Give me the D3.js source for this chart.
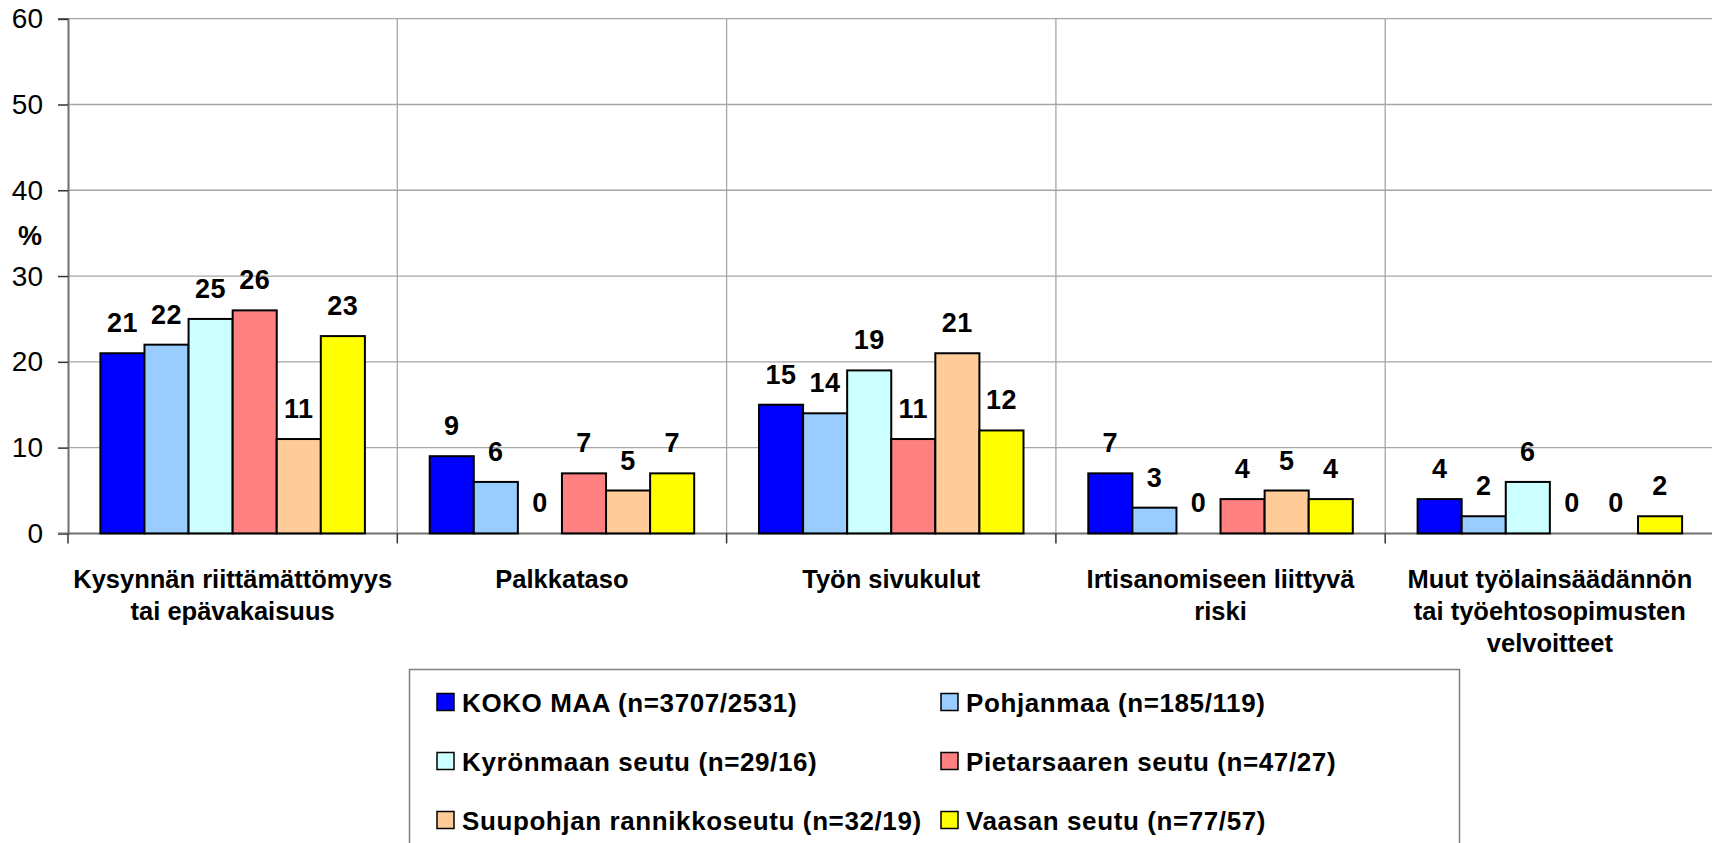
<!DOCTYPE html>
<html>
<head>
<meta charset="utf-8">
<script src="https://cdn.jsdelivr.net/npm/d3@7"></script>
<style>
  html, body { margin: 0; padding: 0; background: #fff; overflow: hidden; }
  svg { display: block; font-family: Arial, "Liberation Sans", sans-serif; }
</style>
</head>
<body>
<svg id="chart" width="1712" height="843"></svg>
<script>
const categories = [
  ["Kysynnän riittämättömyys", "tai epävakaisuus"],
  ["Palkkataso"],
  ["Työn sivukulut"],
  ["Irtisanomiseen liittyvä", "riski"],
  ["Muut työlainsäädännön", "tai työehtosopimusten", "velvoitteet"]
];
const seriesNames = [
  "KOKO MAA (n=3707/2531)",
  "Pohjanmaa (n=185/119)",
  "Kyrönmaan seutu (n=29/16)",
  "Pietarsaaren seutu (n=47/27)",
  "Suupohjan rannikkoseutu (n=32/19)",
  "Vaasan seutu (n=77/57)"
];
const kokoMaa    = [21, 9, 15, 7, 4];
const pohjanmaa  = [22, 6, 14, 3, 2];
const kyronmaa   = [25, 0, 19, 0, 6];
const pietarsaari= [26, 7, 11, 4, 0];
const suupohja   = [11, 5, 21, 5, 0];
const vaasa      = [23, 7, 12, 4, 2];
const seriesValues = [kokoMaa, pohjanmaa, kyronmaa, pietarsaari, suupohja, vaasa];
const seriesColors = ["#0000FF", "#99CCFF", "#CCFFFF", "#FF8080", "#FFCC99", "#FFFF00"];
const yTicks = [0, 10, 20, 30, 40, 50, 60];
const yLabel = "%";

const svg = d3.select("#chart");
const plotLeft = 68, plotRight = 1714.5, plotTop = 18.7, plotBottom = 533.4;

const catIdx = categories.map((c, i) => i);
const x = d3.scaleBand().domain(catIdx).range([plotLeft, plotRight]).padding(0);
const xs = d3.scaleBand().domain(d3.range(seriesNames.length)).range([0, x.bandwidth()])
  .paddingInner(0).paddingOuter(0.735);
const y = d3.scaleLinear().domain([0, 60]).range([plotBottom, plotTop]);

const gridColor = "#a6a6a6";
const axisColor = "#707070";

// horizontal gridlines
svg.append("g").selectAll("line").data(yTicks.filter(t => t > 0)).join("line")
  .attr("x1", plotLeft).attr("x2", plotRight)
  .attr("y1", d => y(d)).attr("y2", d => y(d))
  .attr("stroke", gridColor).attr("stroke-width", 1.3);

// vertical gridlines (category boundaries)
svg.append("g").selectAll("line").data(catIdx.slice(1)).join("line")
  .attr("x1", d => x(d)).attr("x2", d => x(d))
  .attr("y1", plotTop).attr("y2", plotBottom)
  .attr("stroke", gridColor).attr("stroke-width", 1.3);

// Y axis
const yAxis = d3.axisLeft(y).tickValues(yTicks).tickSize(10).tickPadding(15).tickFormat(d3.format("d"));
const gy = svg.append("g").attr("transform", `translate(${plotLeft},0)`).call(yAxis);
gy.select(".domain").attr("stroke", axisColor).attr("stroke-width", 2);
gy.selectAll(".tick line").attr("stroke", "#333").attr("stroke-width", 1.5);
gy.selectAll(".tick text").attr("font-size", 28).attr("fill", "#000")
  .attr("font-family", "Arial, 'Liberation Sans', sans-serif");

// y label
svg.append("text").attr("x", 30).attr("y", 245).attr("text-anchor", "middle")
  .attr("font-size", 27).attr("font-weight", "bold").text(yLabel);

// X axis line
svg.append("line").attr("x1", plotLeft - 10).attr("x2", plotRight)
  .attr("y1", plotBottom).attr("y2", plotBottom)
  .attr("stroke", axisColor).attr("stroke-width", 2);
// x ticks at category boundaries
svg.append("g").selectAll("line").data(catIdx.concat([categories.length])).join("line")
  .attr("x1", d => d < categories.length ? x(d) : plotRight)
  .attr("x2", d => d < categories.length ? x(d) : plotRight)
  .attr("y1", plotBottom).attr("y2", plotBottom + 10)
  .attr("stroke", "#333").attr("stroke-width", 1.5);

// bars
const bars = svg.append("g");
seriesValues.forEach((vals, s) => {
  bars.append("g").selectAll("rect").data(vals).join("rect")
    .attr("x", (d, i) => x(i) + xs(s))
    .attr("y", d => y(d))
    .attr("width", xs.bandwidth())
    .attr("height", d => plotBottom - y(d))
    .attr("fill", seriesColors[s])
    .attr("stroke", d => d > 0 ? "#000" : "none")
    .attr("stroke-width", 2);
});

// value labels
const labels = svg.append("g");
seriesValues.forEach((vals, s) => {
  labels.append("g").selectAll("text").data(vals).join("text")
    .attr("x", (d, i) => x(i) + xs(s) + xs.bandwidth() / 2)
    .attr("y", d => y(d) - 21)
    .attr("text-anchor", "middle")
    .attr("font-size", 27).attr("font-weight", "bold").attr("fill", "#000")
    .attr("letter-spacing", 0.5)
    .text(d => d);
});

// category labels
const catG = svg.append("g");
categories.forEach((lines, i) => {
  const t = catG.append("text")
    .attr("x", x(i) + x.bandwidth() / 2)
    .attr("y", 588)
    .attr("text-anchor", "middle")
    .attr("font-size", 25.5).attr("font-weight", "bold").attr("fill", "#000");
  lines.forEach((ln, j) => {
    t.append("tspan").attr("x", x(i) + x.bandwidth() / 2).attr("y", 588 + j * 32).text(ln);
  });
});

// legend
const legG = svg.append("g");
legG.append("rect").attr("x", 409.5).attr("y", 669.5).attr("width", 1050).attr("height", 200)
  .attr("fill", "#fff").attr("stroke", "#808080").attr("stroke-width", 1.5);
const colX = [437, 941];
const rowY = [702, 761, 820];
seriesNames.forEach((name, s) => {
  const cx = colX[s % 2], cy = rowY[Math.floor(s / 2)];
  legG.append("rect").attr("x", cx).attr("y", cy - 8.5).attr("width", 17).attr("height", 17)
    .attr("fill", seriesColors[s]).attr("stroke", "#000").attr("stroke-width", 1.5);
  legG.append("text").attr("x", cx + 25).attr("y", cy + 9.5)
    .attr("font-size", 26).attr("font-weight", "bold").attr("fill", "#000")
    .attr("letter-spacing", 0.6)
    .text(name);
});
</script>
</body>
</html>
